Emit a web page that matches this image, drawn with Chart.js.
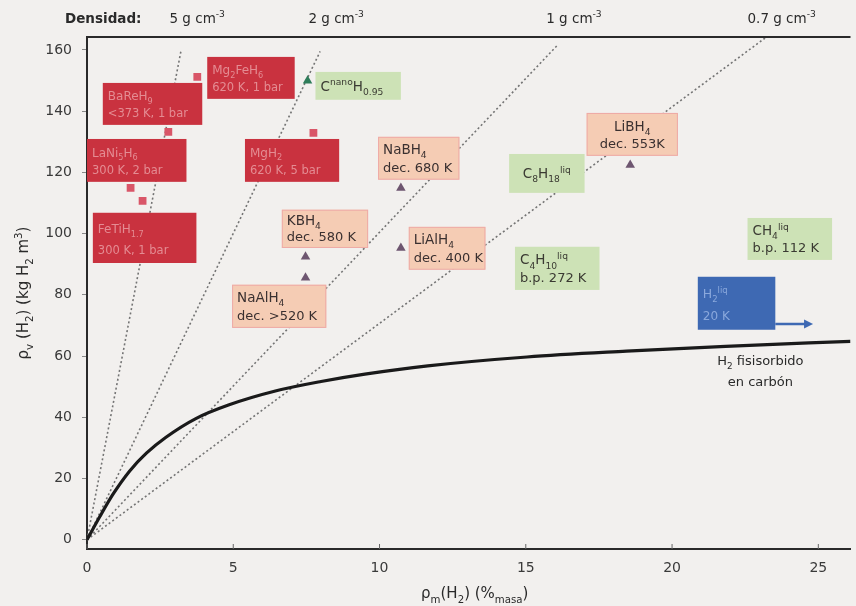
<!DOCTYPE html>
<html>
<head>
<meta charset="utf-8">
<script src="https://cdn.jsdelivr.net/npm/chart.js@4.4.1/dist/chart.umd.min.js"></script>
<style>
  html, body { margin: 0; padding: 0; background: #f2f0ee; }
  #wrap { width: 856px; height: 606px; position: relative; }
</style>
</head>
<body>
<div id="wrap"><canvas id="chart"></canvas></div>
<script>
// H2 fisisorbido en carbón (curva)
const curveX = [0, 0.44, 0.89, 1.46, 2.03, 2.70, 3.72, 4.86, 6.44, 8.0, 9.5, 11.65, 15.04, 18.44, 21.83, 26.1];
const curveY = [0, 7.6, 14.9, 22.5, 28.3, 33.5, 39.6, 44.1, 48.6, 51.7, 54.1, 56.8, 59.7, 61.6, 63.2, 64.8];

// líneas de densidad: salen del origen y terminan en el borde superior
const densityLabels = ['5 g cm^{-3}', '2 g cm^{-3}', '1 g cm^{-3}', '0.7 g cm^{-3}'];
const densityEndX = [3.22, 7.97, 16.1, 23.2];
const densityEndY = [160, 159.5, 161.7, 164];

// hidruros metálicos (cuadrados)
const squareX = [3.77, 2.78, 1.49, 1.90, 7.74];
const squareY = [151.2, 133.2, 114.9, 110.7, 132.9];

// hidruros complejos (triángulos)
const triX = [10.73, 10.73, 7.47, 7.47, 18.57];
const triY = [114.9, 95.3, 92.4, 85.6, 122.4];

// C(nano)H0.95
const cnanoX = [7.54];
const cnanoY = [149.9];

const xTicks = [0, 5, 10, 15, 20, 25];
const yTicks = [0, 20, 40, 60, 80, 100, 120, 140, 160];

// cajas de texto (coordenadas de datos: izquierda, derecha, arriba, abajo)
const labelBoxes = [
  { x0: 0.54, x1: 3.94, y0: 149.2, y1: 135.5, kind: 'red', lines: ['BaReH_9', '<373 K, 1 bar'] },
  { x0: 4.11, x1: 7.10, y0: 157.7, y1: 144.0, kind: 'red', lines: ['Mg_2FeH_6', '620 K, 1 bar'] },
  { x0: 0.0, x1: 3.40, y0: 130.9, y1: 116.9, kind: 'red', lines: ['LaNi_5H_6', '300 K, 2 bar'] },
  { x0: 5.40, x1: 8.62, y0: 130.9, y1: 116.9, kind: 'red', lines: ['MgH_2', '620 K, 5 bar'] },
  { x0: 0.20, x1: 3.74, y0: 106.8, y1: 90.4, kind: 'red', lines: ['FeTiH_{1.7}', '300 K, 1 bar'] },
  { x0: 7.81, x1: 10.73, y0: 152.8, y1: 143.7, kind: 'green', lines: ['C^{nano}H_{0.95}'] },
  { x0: 9.95, x1: 12.73, y0: 131.6, y1: 117.6, kind: 'salmon', lines: ['NaBH_4', 'dec. 680 K'] },
  { x0: 6.66, x1: 9.61, y0: 107.8, y1: 95.3, kind: 'salmon', lines: ['KBH_4', 'dec. 580 K'] },
  { x0: 11.0, x1: 13.62, y0: 102.2, y1: 88.2, kind: 'salmon', lines: ['LiAlH_4', 'dec. 400 K'] },
  { x0: 4.96, x1: 8.18, y0: 83.3, y1: 69.2, kind: 'salmon', lines: ['NaAlH_4', 'dec. >520 K'] },
  { x0: 17.08, x1: 20.20, y0: 139.4, y1: 125.4, kind: 'salmon', lines: ['LiBH_4', 'dec. 553K'], align: 'center' },
  { x0: 14.43, x1: 17.01, y0: 126.0, y1: 113.3, kind: 'green', lines: ['C_8H_{18}^{liq}'], align: 'center' },
  { x0: 14.63, x1: 17.52, y0: 95.7, y1: 81.6, kind: 'green', lines: ['C_4H_{10}^{liq}', 'b.p. 272 K'] },
  { x0: 22.58, x1: 25.47, y0: 105.1, y1: 91.4, kind: 'green', lines: ['CH_4^{liq}', 'b.p. 112 K'] },
  { x0: 20.88, x1: 23.53, y0: 85.9, y1: 68.6, kind: 'blue', lines: ['H_2^{liq}', '20 K'] },
];

const BOX_STYLE = {
  red:    { fill: '#c9323f', stroke: null, text: '#e48c93', size: 12 },
  salmon: { fill: '#f5ccb4', stroke: '#eeaaa6', text: '#3a3030', size: 13.5 },
  green:  { fill: '#cde2b6', stroke: null, text: '#3a3a32', size: 13.5 },
  blue:   { fill: '#3e69b3', stroke: null, text: '#8aa8dc', size: 12.5 },
};
const FAMILY = '"DejaVu Sans", "Liberation Sans", sans-serif';

function parseRich(s) {
  const parts = [];
  let buf = '';
  let i = 0;
  while (i < s.length) {
    const c = s[i];
    if (c === '_' || c === '^') {
      if (buf) { parts.push([buf, 0]); buf = ''; }
      let t;
      if (s[i + 1] === '{') {
        const j = s.indexOf('}', i);
        t = s.slice(i + 2, j);
        i = j + 1;
      } else {
        t = s[i + 1];
        i += 2;
      }
      parts.push([t, c === '_' ? 1 : -1]);
    } else {
      buf += c;
      i++;
    }
  }
  if (buf) parts.push([buf, 0]);
  return parts;
}

function richText(ctx, str, x, y, size, align, weight) {
  const parts = parseRich(str);
  const fontFor = k => `${weight || 'normal'} ${k ? size * 0.68 : size}px ${FAMILY}`;
  let w = 0;
  parts.forEach(([t, k]) => { ctx.font = fontFor(k); w += ctx.measureText(t).width; });
  let cx = align === 'center' ? x - w / 2 : align === 'right' ? x - w : x;
  ctx.textAlign = 'left';
  ctx.textBaseline = 'alphabetic';
  parts.forEach(([t, k]) => {
    ctx.font = fontFor(k);
    const dy = k === 1 ? size * 0.3 : k === -1 ? -size * 0.42 : 0;
    ctx.fillText(t, cx, y + dy);
    cx += ctx.measureText(t).width;
  });
}

function drawBoxes(chart) {
  const { ctx, scales: { x, y } } = chart;
  ctx.save();
  labelBoxes.forEach(b => {
    const st = BOX_STYLE[b.kind];
    const l = x.getPixelForValue(b.x0), r = x.getPixelForValue(b.x1);
    const t = y.getPixelForValue(b.y0), btm = y.getPixelForValue(b.y1);
    const h = btm - t;
    ctx.fillStyle = st.fill;
    ctx.fillRect(l, t, r - l, h);
    if (st.stroke) {
      ctx.strokeStyle = st.stroke;
      ctx.lineWidth = 1;
      ctx.strokeRect(l + 0.5, t + 0.5, r - l - 1, h - 1);
    }
    ctx.fillStyle = st.text;
    const align = b.align || 'left';
    const tx = align === 'center' ? (l + r) / 2 : l + 5;
    if (b.lines.length === 1) {
      richText(ctx, b.lines[0], tx, t + h / 2 + 5, st.size, align);
    } else {
      richText(ctx, b.lines[0], tx, t + h * 0.41, st.size, align);
      richText(ctx, b.lines[1], tx, t + h * 0.82, st.size - 0.5, align);
    }
  });

  // flecha del H2 líquido
  const ay = y.getPixelForValue(70.5);
  const ax0 = x.getPixelForValue(23.53), ax1 = x.getPixelForValue(24.82);
  ctx.strokeStyle = '#3e69b3';
  ctx.fillStyle = '#3e69b3';
  ctx.lineWidth = 2.5;
  ctx.beginPath();
  ctx.moveTo(ax0, ay);
  ctx.lineTo(ax1 - 6, ay);
  ctx.stroke();
  ctx.beginPath();
  ctx.moveTo(ax1, ay);
  ctx.lineTo(ax1 - 9, ay - 4.5);
  ctx.lineTo(ax1 - 9, ay + 4.5);
  ctx.closePath();
  ctx.fill();
  ctx.restore();
}

const decorPlugin = {
  id: 'decor',
  afterDatasetDraw(chart, args) {
    // las cajas tapan las líneas de densidad pero quedan bajo los marcadores
    if (args.index === 4) drawBoxes(chart);
  },
  afterDraw(chart) {
    const { ctx, chartArea: a, scales: { x, y } } = chart;
    ctx.save();
    // borde superior
    ctx.strokeStyle = '#2a2a2a';
    ctx.lineWidth = 2;
    ctx.beginPath();
    ctx.moveTo(a.left, a.top);
    ctx.lineTo(a.right, a.top);
    ctx.stroke();
    // marcas del eje x hacia dentro
    ctx.lineWidth = 1;
    ctx.strokeStyle = '#666';
    xTicks.forEach(v => {
      const px = x.getPixelForValue(v);
      ctx.beginPath();
      ctx.moveTo(px, a.bottom);
      ctx.lineTo(px, a.bottom - 5);
      ctx.stroke();
    });

    ctx.fillStyle = '#2a2a2a';
    richText(ctx, 'Densidad:', 65, 23, 13.5, 'left', 'bold');
    densityLabels.forEach((lab, i) => {
      const px = x.getPixelForValue(densityEndX[i]) + 16;
      richText(ctx, lab, px, 23, 13.5, 'center');
    });

    // texto de la curva
    richText(ctx, 'H_2 fisisorbido', x.getPixelForValue(23.02), y.getPixelForValue(57.2), 13, 'center');
    richText(ctx, 'en carbón', x.getPixelForValue(23.02), y.getPixelForValue(50.3), 13, 'center');

    // títulos de los ejes
    richText(ctx, 'ρ_m(H_2) (%_{masa})', (a.left + a.right) / 2 + 6, 598, 15, 'center');
    ctx.translate(28, (a.top + a.bottom) / 2);
    ctx.rotate(-Math.PI / 2);
    richText(ctx, 'ρ_v (H_2) (kg H_2 m^3)', 0, 0, 15, 'center');
    ctx.restore();
  }
};

const pts = (xs, ys) => xs.map((v, i) => ({ x: v, y: ys[i] }));

const densityDatasets = densityEndX.map((ex, i) => ({
  label: densityLabels[i],
  data: [{ x: 0, y: 0 }, { x: ex, y: densityEndY[i] }],
  showLine: true,
  borderColor: '#747474',
  borderWidth: 1.6,
  borderDash: [2, 2.5],
  pointRadius: 0,
}));

new Chart(document.getElementById('chart'), {
  type: 'scatter',
  data: {
    datasets: [
      {
        label: 'H2 fisisorbido en carbón',
        data: pts(curveX, curveY),
        showLine: true,
        borderColor: '#1a1a1a',
        borderWidth: 3.2,
        pointRadius: 0,
        cubicInterpolationMode: 'monotone',
      },
      {
        label: 'hidruros complejos',
        data: pts(triX, triY),
        pointStyle: 'triangle',
        pointRadius: 5.5,
        backgroundColor: '#6e5670',
        borderColor: '#6e5670',
        borderWidth: 0,
      },
      {
        label: 'CnanoH0.95',
        data: pts(cnanoX, cnanoY),
        pointStyle: 'triangle',
        pointRadius: 5.5,
        backgroundColor: '#2f7d5a',
        borderColor: '#2f7d5a',
        borderWidth: 0,
      },
      {
        label: 'hidruros metálicos',
        data: pts(squareX, squareY),
        pointStyle: 'rect',
        pointRadius: 5.5,
        backgroundColor: '#d95668',
        borderColor: '#d95668',
        borderWidth: 0,
      },
      ...densityDatasets,
    ],
  },
  options: {
    responsive: true,
    maintainAspectRatio: false,
    animation: false,
    layout: { padding: { top: 37, right: 0, left: 0, bottom: 0 } },
    plugins: { legend: { display: false }, tooltip: { enabled: false } },
    scales: {
      x: {
        type: 'linear',
        min: 0,
        max: 26.1,
        afterFit: s => { s.height = 57; },
        afterBuildTicks: s => { s.ticks = xTicks.map(v => ({ value: v })); },
        grid: { display: true, drawOnChartArea: false, drawTicks: false },
        border: { display: true, color: '#2a2a2a', width: 2 },
        ticks: { padding: 11, color: '#3a3a3a', font: { family: 'DejaVu Sans', size: 14 } },
      },
      y: {
        type: 'linear',
        min: -3,
        max: 164.2,
        afterFit: s => { s.width = 87; },
        afterBuildTicks: s => { s.ticks = yTicks.map(v => ({ value: v })); },
        grid: { display: true, drawOnChartArea: false, tickLength: 5, color: '#888' },
        border: { display: true, color: '#2a2a2a', width: 2 },
        ticks: { padding: 10, color: '#3a3a3a', font: { family: 'DejaVu Sans', size: 14 } },
      },
    },
  },
  plugins: [decorPlugin],
});
</script>
</body>
</html>
